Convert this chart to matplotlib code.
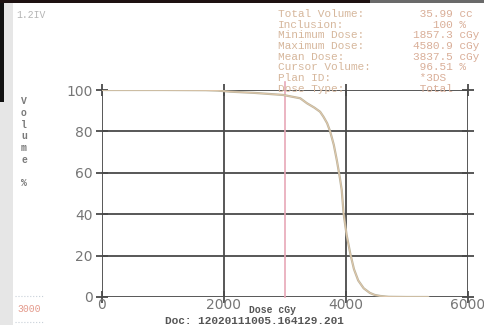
import matplotlib
matplotlib.use("Agg")
import matplotlib.pyplot as plt
from matplotlib.patches import Rectangle
from matplotlib.lines import Line2D

# Cumulative DVH (dose in cGy, volume in %)
dose = [0, 1000, 1700, 1900, 2100, 2500, 2970, 3250, 3360, 3480, 3575, 3630,
        3690, 3740, 3800, 3850, 3900, 3930, 3960, 4010, 4070, 4130, 4200, 4290,
        4390, 4470, 4560, 4700, 5000, 5350]
volume = [100, 100, 99.9, 99.7, 99.2, 98.6, 97.6, 96.0, 93.6, 91.5, 89.5, 87.1,
          84.0, 80.0, 73.5, 66.0, 57.5, 51.7, 40.5, 30.0, 21.0, 13.5, 8.0, 4.2,
          2.0, 1.0, 0.5, 0.1, 0, 0]

cursor_dose = 3000
x_ticks = [0, 2000, 4000, 6000]
y_ticks = [0, 20, 40, 60, 80, 100]

stat_labels = ["Total Volume:", "Inclusion:", "Minimum Dose:", "Maximum Dose:",
               "Mean Dose:", "Cursor Volume:", "Plan ID:", "Dose Type:"]
stat_values = [" 35.99 cc", "   100 %", "1857.3 cGy", "4580.9 cGy",
               "3837.5 cGy", " 96.51 %", " *3DS", " Total"]

W, H = 485, 325
fig = plt.figure(figsize=(W / 100, H / 100), dpi=100)
fig.patch.set_facecolor("white")


def fx(px):
    return px / W


def fy(py):
    return 1 - py / H


# window chrome: left strip and top bar
fig.add_artist(Rectangle((0, 0), fx(13), 1, transform=fig.transFigure,
                         facecolor="#e6e6e6", edgecolor="none", zorder=0))
fig.add_artist(Rectangle((0, fy(102)), fx(4), 1 - fy(102), transform=fig.transFigure,
                         facecolor="#111111", edgecolor="none", zorder=1))
fig.add_artist(Rectangle((0, fy(3)), fx(370), fy(0) - fy(3), transform=fig.transFigure,
                         facecolor="#1e1212", edgecolor="none", zorder=1))
fig.add_artist(Rectangle((fx(370), fy(3)), 1 - fx(370), fy(0) - fy(3),
                         transform=fig.transFigure,
                         facecolor="#6a6a6a", edgecolor="none", zorder=1))

ax = fig.add_axes([fx(102), fy(297), fx(468) - fx(102), fy(90) - fy(297)])
ax.set_facecolor("white")
ax.set_xlim(0, 6000)
ax.set_ylim(0, 100)

grid_c = "#4a4a4a"
for v in y_ticks:
    ax.axhline(v, color=grid_c, lw=1.3, zorder=1)
for v in x_ticks:
    ax.axvline(v, color=grid_c, lw=1.3, zorder=1)
for s in ax.spines.values():
    s.set_visible(False)

ax.set_xticks(x_ticks)
ax.set_yticks(y_ticks)
ax.tick_params(axis="both", direction="inout", length=9, width=1.3, color=grid_c,
               labelsize=10, labelcolor="#767676", top=True, right=True)
ax.tick_params(axis="x", pad=-4)
ax.tick_params(axis="y", pad=2)

# cursor line
ax.plot([cursor_dose, cursor_dose], [0, 104], color="#e8a8b8", lw=1.2,
        clip_on=False, zorder=2)

# DVH curve
ax.plot(dose, volume, color="#bab49e", lw=1.6, zorder=3, solid_capstyle="round")
ax.plot(dose, volume, color="#f1cfae", lw=0.6, alpha=0.8, zorder=4)

# statistics block
mono = "Liberation Mono"
for i, (lab, val) in enumerate(zip(stat_labels, stat_values)):
    y = 14 + i * 10.7
    fig.text(fx(278), fy(y), lab, family=mono, fontsize=8, color="#d6b79c",
             va="center", ha="left", zorder=5)
    fig.text(fx(413), fy(y), val, family=mono, fontsize=8, color="#d9ae98",
             va="center", ha="left", zorder=5)

fig.text(fx(16), fy(15), "1.2IV", family=mono, fontsize=7, color="#b4b4b4",
         va="center", ha="left")

# vertical stacked axis title
fig.text(fx(24), fy(96), "V\no\nl\nu\nm\ne\n \n%", family=mono, fontsize=7,
         fontweight="bold", color="#7a7a7a", va="top", ha="center",
         linespacing=1.22)

fig.text(fx(249), fy(310), "Dose cGy", family=mono, fontsize=7,
         fontweight="bold", color="#555555", va="center", ha="left")
fig.text(fx(254), fy(320.5), "Doc: 12020111005.164129.201", family=mono,
         fontsize=8, fontweight="bold", color="#555555", va="center",
         ha="center")

fig.text(fx(29), fy(309), "3000", family=mono, fontsize=7, color="#e49a8c",
         va="center", ha="center")
for yy in (296, 322):
    fig.add_artist(Line2D([fx(15), fx(43)], [fy(yy), fy(yy)],
                          transform=fig.transFigure, color="#c8d0d8",
                          lw=0.8, ls=":"))

fig.savefig("out.png", dpi=100, facecolor="white")
